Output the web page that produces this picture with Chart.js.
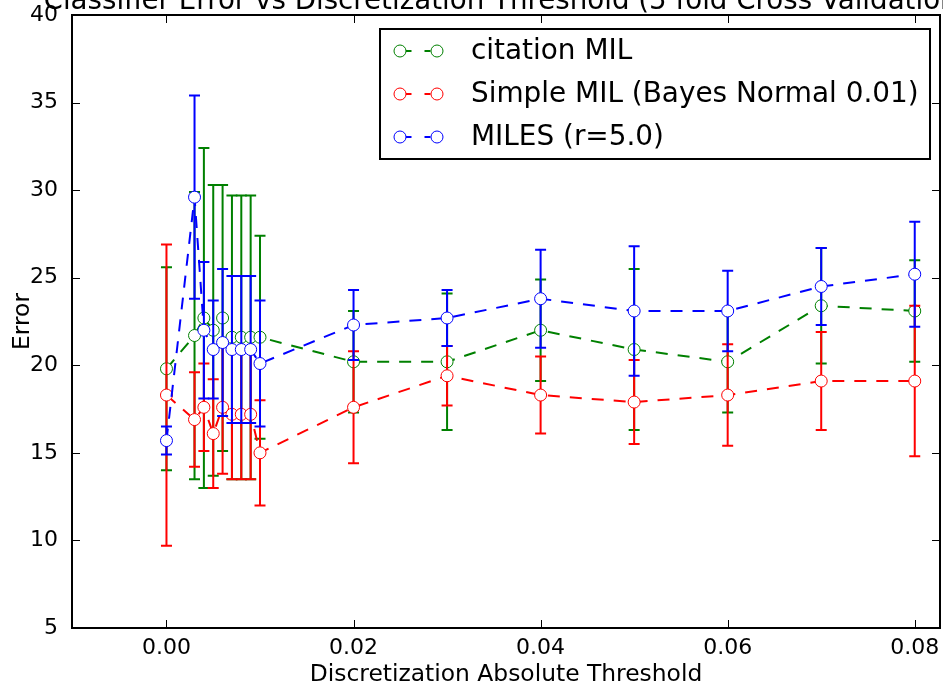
<!DOCTYPE html>
<html>
<head>
<meta charset="utf-8">
<script src="https://cdn.jsdelivr.net/npm/chart.js@4.4.0/dist/chart.umd.min.js"></script>
<style>
  html, body { margin: 0; padding: 0; background: #fff; }
  #wrap { width: 943px; height: 686px; }
</style>
</head>
<body>
<div id="wrap"><canvas id="errChart" width="943" height="686"></canvas></div>
<script>
// thresholds on the x axis
const thresholds = [0, 0.003, 0.004, 0.005, 0.006, 0.007, 0.008, 0.009, 0.01, 0.02, 0.03, 0.04, 0.05, 0.06, 0.07, 0.08];

// mean error and std per threshold for each classifier
const citationErr = [19.8, 21.7, 22.7, 22.0, 22.7, 21.6, 21.6, 21.6, 21.6, 20.2, 20.2, 22.0, 20.9, 20.2, 23.4, 23.1];
const citationStd = [5.8, 8.2, 9.7, 8.3, 7.6, 8.1, 8.1, 8.1, 5.8, 2.9, 3.9, 2.9, 4.6, 2.9, 3.3, 2.9];

const simpleErr = [18.3, 16.9, 17.6, 16.1, 17.6, 17.2, 17.2, 17.2, 15.0, 17.6, 19.4, 18.3, 17.9, 18.3, 19.1, 19.1];
const simpleStd = [8.6, 2.7, 2.5, 3.1, 3.8, 3.7, 3.7, 3.7, 3.0, 3.2, 1.7, 2.2, 2.4, 2.9, 2.8, 4.3];

const milesErr = [15.7, 29.6, 22.0, 20.9, 21.3, 20.9, 20.9, 20.9, 20.1, 22.3, 22.7, 23.8, 23.1, 23.1, 24.5, 25.2];
const milesStd = [0.8, 5.8, 3.9, 2.8, 4.2, 4.2, 4.2, 4.2, 3.6, 2.0, 1.6, 2.8, 3.7, 2.3, 2.2, 3.0];

const seriesLabels = ['citation MIL', 'Simple MIL (Bayes Normal 0.01)', 'MILES (r=5.0)'];
const seriesColors = ['#008000', '#ff0000', '#0000ff'];

const xTicks = [0, 0.02, 0.04, 0.06, 0.08];
const yTicks = [5, 10, 15, 20, 25, 30, 35, 40];

const chartTitle = 'Classifier Error vs Discretization Threshold (5 fold Cross Validation)';

Chart.defaults.font.family = "'DejaVu Sans', sans-serif";
Chart.defaults.color = '#000';

function makeSeries(label, means, stds, color, order) {
    return {
        label: label,
        data: thresholds.map((t, i) => ({ x: t, y: means[i] })),
        errors: stds,
        borderColor: color,
        backgroundColor: '#fff',
        borderWidth: 2,
        borderDash: [12, 10],
        showLine: true,
        tension: 0,
        pointRadius: 6,
        pointBorderWidth: 1,
        pointBorderColor: color,
        pointBackgroundColor: '#fff',
        order: order
    };
}

// vertical error bars with caps, drawn just before each dataset so markers sit on top
const errorBarPlugin = {
    id: 'errorBars',
    beforeDatasetDraw(chart, args) {
        const ds = chart.data.datasets[args.index];
        const yScale = chart.scales.y;
        const ctx = chart.ctx;
        const cap = 5.5;
        ctx.save();
        ctx.strokeStyle = ds.borderColor;
        ctx.lineWidth = 2;
        ctx.setLineDash([]);
        args.meta.data.forEach((pt, i) => {
            const v = ds.data[i].y;
            const e = ds.errors[i];
            const yTop = yScale.getPixelForValue(v + e);
            const yBot = yScale.getPixelForValue(v - e);
            ctx.beginPath();
            ctx.moveTo(pt.x, yTop);
            ctx.lineTo(pt.x, yBot);
            ctx.moveTo(pt.x - cap, yTop);
            ctx.lineTo(pt.x + cap, yTop);
            ctx.moveTo(pt.x - cap, yBot);
            ctx.lineTo(pt.x + cap, yBot);
            ctx.stroke();
        });
        ctx.restore();
    }
};

// axes frame with inward ticks on all four sides
const framePlugin = {
    id: 'frame',
    afterDatasetsDraw(chart) {
        const { ctx, chartArea: a, scales } = chart;
        const len = 8;
        ctx.save();
        ctx.strokeStyle = '#000';
        ctx.lineWidth = 1;
        ctx.beginPath();
        xTicks.forEach(t => {
            const px = Math.round(scales.x.getPixelForValue(t)) + 0.5;
            ctx.moveTo(px, a.bottom);
            ctx.lineTo(px, a.bottom - len);
            ctx.moveTo(px, a.top);
            ctx.lineTo(px, a.top + len);
        });
        yTicks.forEach(t => {
            const py = Math.round(scales.y.getPixelForValue(t)) + 0.5;
            ctx.moveTo(a.left, py);
            ctx.lineTo(a.left + len, py);
            ctx.moveTo(a.right, py);
            ctx.lineTo(a.right - len, py);
        });
        ctx.stroke();
        ctx.lineWidth = 2;
        ctx.strokeRect(a.left, a.top, a.right - a.left, a.bottom - a.top);
        ctx.restore();
    }
};

// title (runs off the top of the canvas) and the boxed legend
const decorPlugin = {
    id: 'decor',
    afterDraw(chart) {
        const { ctx, chartArea: a } = chart;
        ctx.save();
        ctx.fillStyle = '#000';
        ctx.font = "27.7px 'DejaVu Sans', sans-serif";
        ctx.textAlign = 'center';
        ctx.textBaseline = 'alphabetic';
        ctx.fillText(chartTitle, (a.left + a.right) / 2, 9);

        const bx = 380, by = 29, bw = 550, bh = 130;
        ctx.fillStyle = '#fff';
        ctx.fillRect(bx, by, bw, bh);
        ctx.strokeStyle = '#000';
        ctx.lineWidth = 2;
        ctx.strokeRect(bx, by, bw, bh);

        const rows = [51, 94, 137];
        ctx.font = "27.9px 'DejaVu Sans', sans-serif";
        ctx.textAlign = 'left';
        ctx.textBaseline = 'middle';
        seriesLabels.forEach((lbl, i) => {
            const y = rows[i];
            const c = seriesColors[i];
            ctx.strokeStyle = c;
            ctx.lineWidth = 2;
            ctx.setLineDash([6, 13]);
            ctx.beginPath();
            ctx.moveTo(405.5, y);
            ctx.lineTo(431.5, y);
            ctx.stroke();
            ctx.setLineDash([]);
            ctx.lineWidth = 1;
            [400, 437].forEach(mx => {
                ctx.beginPath();
                ctx.arc(mx, y, 6, 0, Math.PI * 2);
                ctx.fillStyle = '#fff';
                ctx.fill();
                ctx.stroke();
            });
            ctx.fillStyle = '#000';
            ctx.fillText(lbl, 471, y + 1);
        });
        ctx.restore();
    }
};

new Chart(document.getElementById('errChart'), {
    type: 'scatter',
    data: {
        datasets: [
            makeSeries(seriesLabels[0], citationErr, citationStd, seriesColors[0], 3),
            makeSeries(seriesLabels[1], simpleErr, simpleStd, seriesColors[1], 2),
            makeSeries(seriesLabels[2], milesErr, milesStd, seriesColors[2], 1)
        ]
    },
    options: {
        responsive: false,
        animation: false,
        devicePixelRatio: 1,
        layout: { autoPadding: false, padding: { top: 15, right: 3, left: 0, bottom: 0 } },
        plugins: {
            legend: { display: false },
            tooltip: { enabled: false }
        },
        scales: {
            x: {
                type: 'linear',
                min: -0.0101,
                max: 0.0827,
                grid: { display: false },
                border: { display: false },
                afterBuildTicks: s => { s.ticks = xTicks.map(v => ({ value: v })); },
                afterFit: s => {
                    s.height = 58;
                    s.paddingLeft = 0;
                    s.paddingRight = 0;
                },
                ticks: {
                    font: { size: 22 },
                    padding: -1,
                    maxRotation: 0,
                    callback: v => v.toFixed(2)
                },
                title: {
                    display: true,
                    text: 'Discretization Absolute Threshold',
                    font: { size: 23.4 },
                    padding: { top: 0, bottom: -3 }
                }
            },
            y: {
                min: 5,
                max: 40,
                grid: { display: false },
                border: { display: false },
                afterBuildTicks: s => { s.ticks = yTicks.map(v => ({ value: v })); },
                afterFit: s => {
                    s.width = 72;
                    s.paddingTop = 0;
                    s.paddingBottom = 0;
                },
                ticks: {
                    font: { size: 22 },
                    padding: 6,
                    callback: v => String(v)
                },
                title: {
                    display: true,
                    text: 'Error',
                    font: { size: 23.4 },
                    padding: { top: 9, bottom: 0 }
                }
            }
        }
    },
    plugins: [errorBarPlugin, framePlugin, decorPlugin]
});
</script>
</body>
</html>
